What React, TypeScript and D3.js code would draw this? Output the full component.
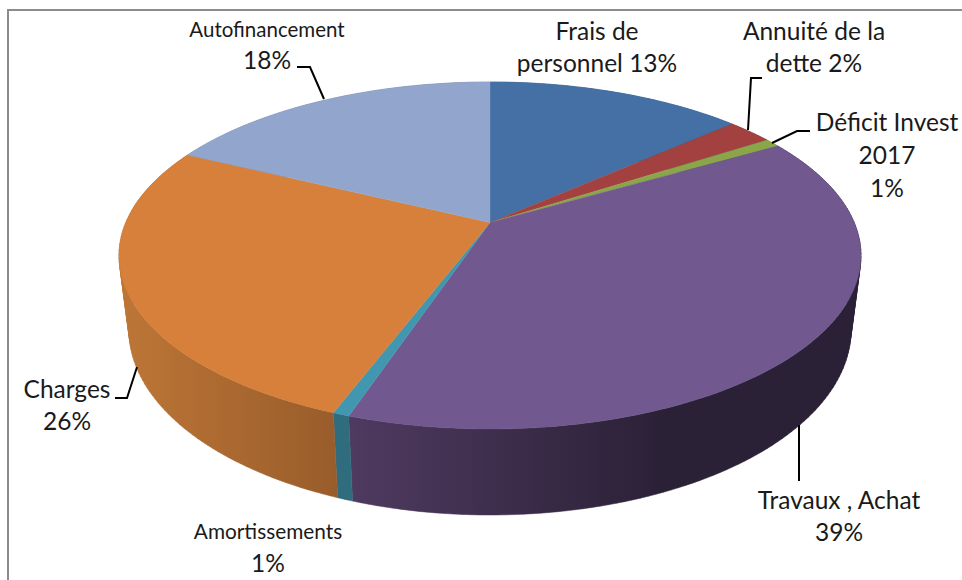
import React from 'react';
import * as d3 from 'd3';

// Shares (the printed labels are these, rounded)
const categories = ['Frais de personnel', 'Annuité de la dette', 'Déficit Invest 2017', 'Travaux , Achat', 'Amortissements', 'Charges', 'Autofinancement'];
const values = [13.45, 2.4, 0.8, 38.5, 0.6, 26.45, 17.8];
const topColors = ['#4470a5', '#a2413f', '#8aa54a', '#71588f', '#4197af', '#d7803b', '#92a6cd'];
const wallLeftColors = ['#35577f', '#7c3230', '#6a7f39', '#4f3a60', '#2f6c7e', '#bd7636', '#71809f'];
const wallRightColors = ['#35577f', '#7c3230', '#6a7f39', '#2b2137', '#2f6c7e', '#985c2b', '#71809f'];

const width = 962;
const height = 580;

// Ellipses of the top face and the base, and how far the pie centre is pushed back
const top = { cx: 490, cy: 255.5, rx: 371, ry: 173.5 };
const base = { cx: 490, cy: 330, rx: 361, ry: 185 };
const tilt = 0.19;

const fontFamily = 'Lato, "Open Sans", sans-serif';

// One entry per label: text lines (%p = the percentage), where each line sits, leader line
const labels = [
  { lines: ['Frais de', 'personnel %p'], x: 597, y: [40, 72], size: 24.5, leader: null },
  { lines: ['Annuité de la', 'dette %p'], x: 814, y: [40, 72], size: 24.5, leader: [[762, 78], [751, 78], [748, 130]] },
  { lines: ['Déficit Invest', '2017', '%p'], x: 887, y: [131, 164, 197], size: 24.5, leader: [[810, 131], [797, 131], [772, 143]] },
  { lines: ['Travaux , Achat', '%p'], x: 839, y: [509, 541], size: 24.5, leader: [[799, 425], [799, 481]] },
  { lines: ['Amortissements', '%p'], x: 268, y: [539, 572], size: [20.8, 24.5], leader: null },
  { lines: ['Charges', '%p'], x: 67, y: [398, 430], size: 24.5, leader: [[115, 398], [127, 398], [137, 367]] },
  { lines: ['Autofinancement', '%p'], x: 267, y: [37, 69], size: [20.5, 24.5], leader: [[297, 67], [310, 67], [324, 99]] },
];

// Projects an angle on the pie (clockwise from 12 o'clock) onto an ellipse, in perspective
const project = (e, angle) => {
  const u = Math.sin(angle);
  const v = -Math.cos(angle);
  const w = 1 - tilt * v;
  return [e.cx + (e.rx * u * Math.sqrt(1 - tilt * tilt)) / w, e.cy + (e.ry * (v - tilt)) / w];
};

const rim = (e, a0, a1) => {
  const n = Math.max(2, Math.ceil((a1 - a0) / 0.02));
  return d3.range(n + 1).map(i => project(e, a0 + ((a1 - a0) * i) / n));
};

const pie = d3.pie().sort(null).value(d => d);
const arcs = pie(values);
const total = d3.sum(values);
const pct = d3.format('.0%');
const line = d3.line();
const apex = [top.cx, top.cy - top.ry * tilt];

// The wall as one small quad per rim step, so the part past the ellipse's widest point gets filled too.
// All quads wound the same way, otherwise overlapping ones cancel out under nonzero fill.
const wallPath = d => {
  const upper = rim(top, d.startAngle, d.endAngle);
  const lower = rim(base, d.startAngle, d.endAngle);
  return d3.pairs(d3.range(upper.length))
    .map(([a, b]) => {
      const quad = [upper[a], upper[b], lower[b], lower[a]];
      return line(d3.polygonArea(quad) < 0 ? quad.reverse() : quad) + 'Z';
    })
    .join('');
};

const App = () => (
  <svg width={width} height={height} style={{ position: 'absolute', left: 0, top: 0, background: '#fff' }}>
    <defs>
      {arcs.map((d, i) => (
        <linearGradient key={i} id={`wall${i}`} gradientUnits="userSpaceOnUse"
          x1={i === 3 ? 349 : i === 5 ? 120 : 0} x2={i === 3 ? 660 : i === 5 ? 340 : width} y1={0} y2={0}>
          <stop offset="0" stopColor={wallLeftColors[i]} />
          <stop offset="1" stopColor={wallRightColors[i]} />
        </linearGradient>
      ))}
    </defs>

    {/* what is left of the chart frame */}
    <path d={line([[8, height], [8, 10], [width, 10]])} fill="none" stroke="#8c8c8c" strokeWidth={2} />

    {/* side walls first, the top face covers whatever is at the back */}
    {arcs.map((d, i) => (
      <path key={i} fill={`url(#wall${i})`} stroke={`url(#wall${i})`} strokeWidth={0.5} d={wallPath(d)} />
    ))}

    {arcs.map((d, i) => (
      <path key={i} fill={topColors[i]} stroke={topColors[i]} strokeWidth={0.4}
        d={line([apex, ...rim(top, d.startAngle, d.endAngle)]) + 'Z'} />
    ))}

    {labels.map((l, i) => (
      <g key={categories[i]}>
        {l.leader && <path d={line(l.leader)} fill="none" stroke="#000" strokeWidth={2} />}
        {l.lines.map((t, j) => (
          <text key={j} x={l.x} y={l.y[j]} textAnchor="middle" fontFamily={fontFamily} fill="#1a1a1a"
            fontSize={Array.isArray(l.size) ? l.size[j] : l.size}>
            {t.replace('%p', pct(values[i] / total))}
          </text>
        ))}
      </g>
    ))}
  </svg>
);

export default App;
